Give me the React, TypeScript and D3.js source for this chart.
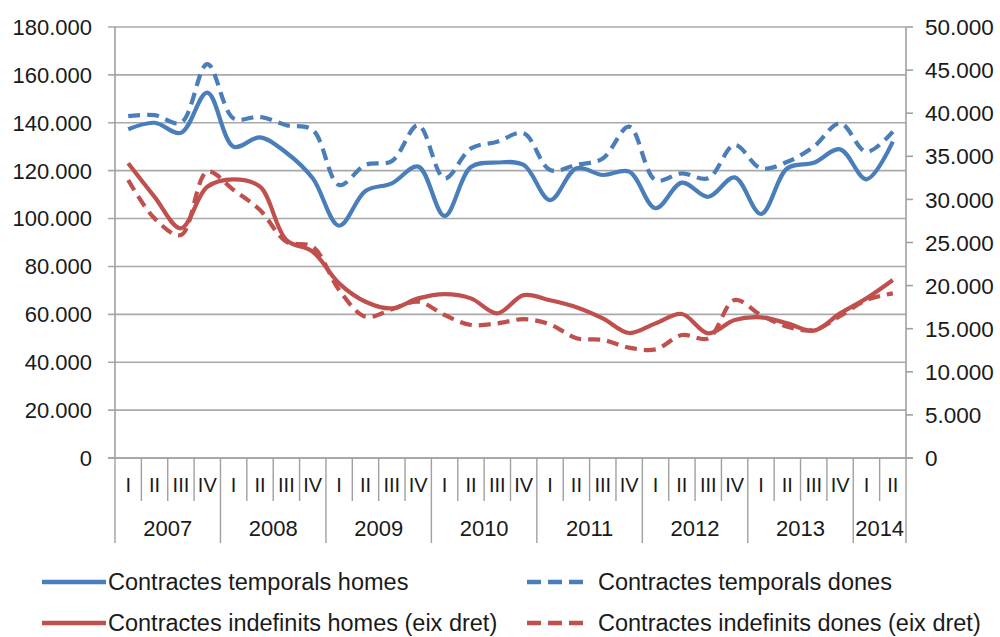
import React, { useEffect, useRef } from 'react';
import * as d3 from 'd3';

// Quarterly values, 2007 QI .. 2014 QII
const years = ['2007', '2008', '2009', '2010', '2011', '2012', '2013', '2014'];
const quarterNames = ['I', 'II', 'III', 'IV'];
const quartersPerYear = [4, 4, 4, 4, 4, 4, 4, 2];

// left axis
const tempHomes = [137300, 140000, 135800, 152600, 130000, 133900, 127500, 116800, 97000, 111500, 114700, 121700, 101100, 121500, 123400, 122400, 107700, 121000, 118200, 119600, 104300, 115000, 109100, 117200, 101900, 121000, 123300, 128900, 116400, 132100];
const tempDones = [142800, 143200, 140000, 164500, 141800, 142500, 139000, 137000, 114000, 122400, 124000, 139000, 116800, 129300, 132100, 135600, 120300, 122400, 125100, 138400, 116100, 118900, 116800, 130700, 121000, 123700, 130000, 139800, 127900, 136300];
// right axis
const indefHomes = [34190, 30300, 26650, 31470, 32330, 31470, 25290, 23930, 20260, 18130, 17360, 18520, 19020, 18520, 16780, 18900, 18300, 17500, 16200, 14500, 15620, 16700, 14460, 16010, 16320, 15620, 14770, 16780, 18520, 20650];
const indefDones = [32250, 27800, 25870, 33210, 31090, 28770, 25090, 24510, 19490, 16390, 17250, 18130, 16590, 15430, 15620, 16100, 15500, 13900, 13700, 12800, 12600, 14270, 13880, 18330, 16590, 15230, 14850, 16470, 18330, 19100];

const leftTicks = [0, 20000, 40000, 60000, 80000, 100000, 120000, 140000, 160000, 180000];
const rightTicks = [0, 5000, 10000, 15000, 20000, 25000, 30000, 35000, 40000, 45000, 50000];

const seriesNames = [
  'Contractes temporals homes',
  'Contractes temporals dones',
  'Contractes indefinits homes (eix dret)',
  'Contractes indefinits dones (eix dret)',
];

const BLUE = '#4a7ebb';
const RED = '#c0504d';
const FONT = '"Liberation Sans", Arial, Helvetica, sans-serif';

const App = () => {
  const svgRef = useRef<SVGSVGElement | null>(null);

  useEffect(() => {
    if (!svgRef.current) return;
    const width = 1000;
    const height = 637;
    const svg = d3.select(svgRef.current);
    svg.attr('width', width).attr('height', height);
    svg.selectAll('*').remove();

    const left = 115, right = 906, top = 27, bottom = 458;
    const n = tempHomes.length;

    const x = d3.scaleBand<number>().domain(d3.range(n)).range([left, right]).padding(0);
    const cx = (i: number) => x(i)! + x.bandwidth() / 2;
    const yL = d3.scaleLinear().domain([0, 180000]).range([bottom, top]);
    const yR = d3.scaleLinear().domain([0, 50000]).range([bottom, top]);

    const fmt = d3.formatLocale({ decimal: ',', thousands: '.', grouping: [3], currency: ['', '€'] }).format(',');

    // gridlines (left axis)
    svg.append('g')
      .selectAll('line')
      .data(leftTicks)
      .enter().append('line')
      .attr('x1', left - 7)
      .attr('x2', right)
      .attr('y1', d => yL(d))
      .attr('y2', d => yL(d))
      .attr('stroke', '#a9a9a9')
      .attr('stroke-width', 1.6);

    // left axis line
    svg.append('line')
      .attr('x1', left).attr('x2', left)
      .attr('y1', top).attr('y2', bottom)
      .attr('stroke', '#a0a0a0').attr('stroke-width', 1.6);

    // right axis line + ticks
    svg.append('line')
      .attr('x1', right).attr('x2', right)
      .attr('y1', top).attr('y2', bottom)
      .attr('stroke', '#a0a0a0').attr('stroke-width', 1.6);
    svg.append('g')
      .selectAll('line')
      .data(rightTicks)
      .enter().append('line')
      .attr('x1', right)
      .attr('x2', right + 7)
      .attr('y1', d => yR(d))
      .attr('y2', d => yR(d))
      .attr('stroke', '#a0a0a0')
      .attr('stroke-width', 1.6);

    // baseline extends to right tick
    svg.append('line')
      .attr('x1', left - 7).attr('x2', right + 7)
      .attr('y1', bottom).attr('y2', bottom)
      .attr('stroke', '#a0a0a0').attr('stroke-width', 1.6);

    // left labels
    svg.append('g')
      .selectAll('text')
      .data(leftTicks)
      .enter().append('text')
      .attr('x', 92)
      .attr('y', d => yL(d))
      .attr('dy', '0.36em')
      .attr('text-anchor', 'end')
      .attr('fill', '#1a1a1a')
      .style('font-family', FONT)
      .style('font-size', '22px')
      .text(d => fmt(d));

    // right labels
    svg.append('g')
      .selectAll('text')
      .data(rightTicks)
      .enter().append('text')
      .attr('x', 925)
      .attr('y', d => yR(d))
      .attr('dy', '0.36em')
      .attr('text-anchor', 'start')
      .attr('fill', '#1a1a1a')
      .style('font-family', FONT)
      .style('font-size', '22.5px')
      .text(d => fmt(d));

    // category axis: quarter separators and labels
    let idx = 0;
    const catG = svg.append('g');
    years.forEach((yr, yi) => {
      const count = quartersPerYear[yi];
      const start = idx;
      for (let q = 0; q < count; q++) {
        const i = idx + q;
        if (q > 0) {
          catG.append('line')
            .attr('x1', x(i)!).attr('x2', x(i)!)
            .attr('y1', bottom).attr('y2', 501)
            .attr('stroke', '#a0a0a0').attr('stroke-width', 1.4);
        }
        catG.append('text')
          .attr('x', cx(i))
          .attr('y', 485)
          .attr('dy', '0.36em')
          .attr('text-anchor', 'middle')
          .attr('fill', '#1a1a1a')
          .style('font-family', FONT)
          .style('font-size', '20px')
          .text(quarterNames[q]);
      }
      catG.append('line')
        .attr('x1', x(start)!).attr('x2', x(start)!)
        .attr('y1', bottom).attr('y2', 543)
        .attr('stroke', '#a0a0a0').attr('stroke-width', 1.4);
      const endX = start + count < n ? x(start + count)! : right;
      catG.append('text')
        .attr('x', (x(start)! + endX) / 2)
        .attr('y', 528)
        .attr('dy', '0.36em')
        .attr('text-anchor', 'middle')
        .attr('fill', '#1a1a1a')
        .style('font-family', FONT)
        .style('font-size', '22px')
        .text(yr);
      idx += count;
    });
    catG.append('line')
      .attr('x1', right).attr('x2', right)
      .attr('y1', bottom).attr('y2', 543)
      .attr('stroke', '#a0a0a0').attr('stroke-width', 1.4);

    // lines
    const lineL = d3.line<number>().x((d, i) => cx(i)).y(d => yL(d)).curve(d3.curveCatmullRom.alpha(0.5));
    const lineR = d3.line<number>().x((d, i) => cx(i)).y(d => yR(d)).curve(d3.curveCatmullRom.alpha(0.5));

    const series = [
      { values: tempHomes, gen: lineL, color: BLUE, dash: null },
      { values: tempDones, gen: lineL, color: BLUE, dash: '12,7' },
      { values: indefHomes, gen: lineR, color: RED, dash: null },
      { values: indefDones, gen: lineR, color: RED, dash: '12,7' },
    ];
    series.forEach(s => {
      svg.append('path')
        .attr('d', s.gen(s.values)!)
        .attr('fill', 'none')
        .attr('stroke', s.color)
        .attr('stroke-width', 4.2)
        .attr('stroke-linejoin', 'round')
        .attr('stroke-dasharray', s.dash);
    });

    // legend
    const legendPos = [
      { lx: 42, ly: 582 },
      { lx: 527, ly: 582 },
      { lx: 42, ly: 623 },
      { lx: 527, ly: 623 },
    ];
    seriesNames.forEach((name, i) => {
      const s = series[i];
      const p = legendPos[i];
      svg.append('line')
        .attr('x1', p.lx).attr('x2', p.lx + (s.dash ? 60 : 64))
        .attr('y1', p.ly).attr('y2', p.ly)
        .attr('stroke', s.color)
        .attr('stroke-width', 4.5)
        .attr('stroke-dasharray', s.dash ? '14,7' : null);
      svg.append('text')
        .attr('x', p.lx + (s.dash ? 71 : 66))
        .attr('y', p.ly)
        .attr('dy', '0.36em')
        .attr('fill', '#1a1a1a')
        .style('font-family', FONT)
        .style('font-size', '23.5px')
        .text(name);
    });
  }, []);

  return (
    <div style={{ width: 1000, height: 637 }}>
      <svg ref={svgRef} style={{ position: 'absolute', left: 0, top: 0 }}></svg>
    </div>
  );
};

export default App;
